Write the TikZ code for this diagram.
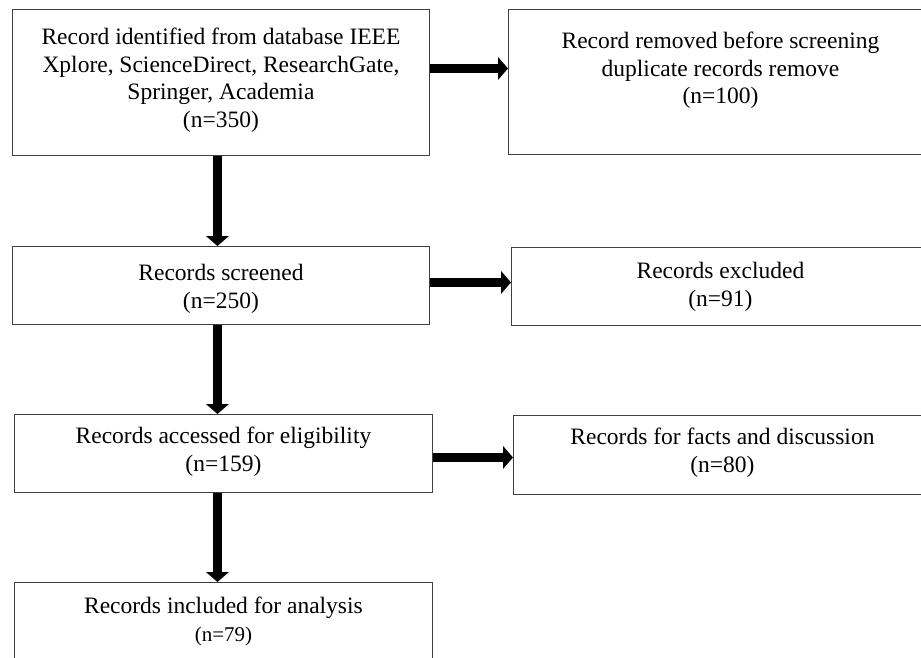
\documentclass[tikz,border=0pt]{standalone}
\usepackage{fontspec}
\setmainfont{Liberation Serif}
\usetikzlibrary{arrows.meta}
\begin{document}
\begin{tikzpicture}[x=1pt,y=-1pt,
  box/.style={draw=black!75, line width=0.9pt, anchor=north west, inner sep=0pt},
  txt/.style={anchor=north, align=center, inner sep=0pt, font=\fontsize{23.5}{27.5}\selectfont},
  arr/.style={line width=9.5pt, -{Triangle[width=23pt,length=10pt,line width=0pt]}}]
\useasboundingbox (0,0) rectangle (921,658);
\clip (0,0) rectangle (921,658);
% boxes
\node[box, minimum width=417pt, minimum height=146pt] (b1) at (12,9) {};
\node[box, minimum width=424pt, minimum height=145pt] (b2) at (508,9) {};
\node[box, minimum width=417pt, minimum height=78pt] (b3) at (12,246) {};
\node[box, minimum width=418pt, minimum height=78pt] (b4) at (511,247) {};
\node[box, minimum width=418pt, minimum height=78pt] (b5) at (14,414) {};
\node[box, minimum width=418pt, minimum height=79pt] (b6) at (513,415) {};
\node[box, minimum width=418pt, minimum height=80pt] (b7) at (14,582) {};
% texts
\node[txt, yshift=-19pt] (t1) at (b1.north) {Record identified from database IEEE\\Xplore, ScienceDirect, ResearchGate,\\Springer, Academia\\(n=350)};
\node[txt, yshift=-23pt] (t2) at (b2.north) {Record removed before screening\\duplicate records remove\\(n=100)};
\node[txt, yshift=-18pt] (t3) at (b3.north) {Records screened\\(n=250)};
\node[txt, yshift=-15pt] (t4) at (b4.north) {Records excluded\\(n=91)};
\node[txt, yshift=-13pt] (t5) at (b5.north) {Records accessed for eligibility\\(n=159)};
\node[txt, yshift=-13pt] (t6) at (b6.north) {Records for facts and discussion\\(n=80)};
\node[txt, yshift=-15pt] (t7) at (b7.north) {Records included for analysis\\{\fontsize{21}{25}\selectfont(n=79)}};
% vertical arrows
\draw[arr] ([xshift=-3.5pt]b1.south) -- ([xshift=-3.5pt]b1.south |- b3.north);
\draw[arr] ([xshift=-3.5pt]b3.south) -- ([xshift=-3.5pt]b3.south |- b5.north);
\draw[arr] ([xshift=-6pt]b5.south) -- ([xshift=-6pt]b5.south |- b7.north);
% horizontal arrows
\draw[arr] ([yshift=14pt]b1.east) -- ([yshift=14pt]b1.east -| b2.west);
\draw[arr] ([yshift=3pt]b3.east) -- ([yshift=3pt]b3.east -| b4.west);
\draw[arr] ([yshift=-4pt]b5.east) -- ([yshift=-4pt]b5.east -| b6.west);
\end{tikzpicture}
\end{document}
